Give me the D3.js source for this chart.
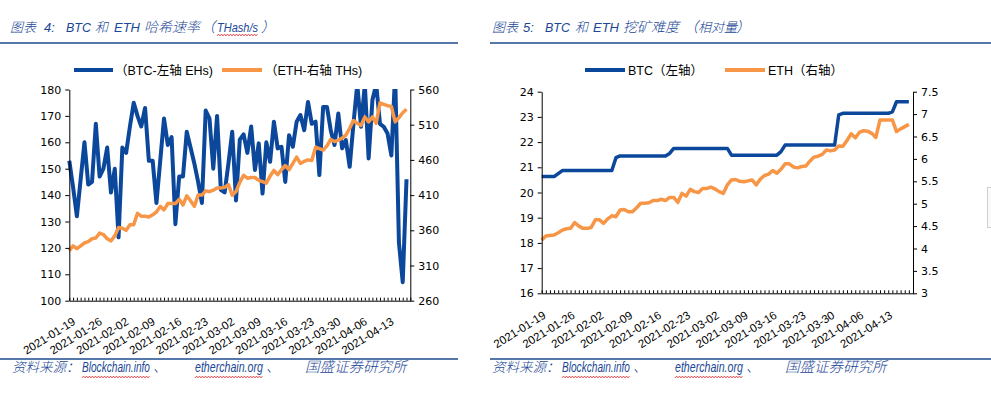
<!DOCTYPE html>
<html>
<head>
<meta charset="utf-8">
<script src="https://cdn.jsdelivr.net/npm/d3@7/dist/d3.min.js"></script>
<style>
  body { margin: 0; background: #fff; }
  svg { display: block; }
</style>
</head>
<body>
<svg id="chart" width="991" height="396"></svg>
<script>
// ---- data ----
// daily categories 2021-01-19 .. 2021-04-19
const days = d3.utcDay.range(new Date(Date.UTC(2021, 0, 19)), new Date(Date.UTC(2021, 3, 20)))
  .map(d3.utcFormat("%Y-%m-%d"));

const xLabels = ["2021-01-19", "2021-01-26", "2021-02-02", "2021-02-09", "2021-02-16", "2021-02-23",
  "2021-03-02", "2021-03-09", "2021-03-16", "2021-03-23", "2021-03-30", "2021-04-06", "2021-04-13"];

// chart 4: hash rate (BTC EH/s left, ETH TH/s right)
const btcHash = [
  153, 143, 132, 146, 160, 144, 145, 167, 147, 150,
  158, 141, 150, 124, 158, 156, 166, 175, 170, 166,
  173, 153, 153, 137, 153, 169, 159, 162, 129, 147,
  147, 164, 158, 152, 145, 137, 172, 169, 150, 170,
  142, 141, 152, 164, 138, 161, 163, 156, 166, 149.5,
  159.6, 140.6, 160, 152.6, 167.8, 157.7, 158.3, 145, 162.7, 158.3,
  167.8, 170.3, 164.6, 175.3, 167, 167.8, 147.6, 173.4, 173.4, 164.6,
  159, 170.9, 157.7, 160.8, 150.7, 167, 182, 165.9, 182, 153.9,
  176, 182, 167, 165.9, 163.3, 155, 186, 122, 107, 146];
const ethHash = [
  331, 338, 334, 338, 342, 344, 348, 349, 356, 354,
  348, 345, 352, 364, 363, 360, 368, 368, 384, 380,
  380, 379, 382, 386, 394, 389, 398, 398, 398, 404,
  396, 409, 402, 394, 410, 410, 416, 415, 417, 420,
  420, 421, 425, 410, 415, 428, 438, 434, 435, 435,
  431, 429, 427, 437, 445, 439, 446, 452, 446, 455,
  464, 455, 458, 460, 459, 478, 476, 474, 480, 489,
  486, 488, 491, 495, 505, 516, 512, 509, 521, 514,
  521, 512, 541, 539, 537, 536, 514, 520, 527, 532];
const hashLeftTicks = [100, 110, 120, 130, 140, 150, 160, 170, 180];
const hashRightTicks = [260, 310, 360, 410, 460, 510, 560];

// chart 5: mining difficulty (relative)
const btcDiff = [
  20.63, 20.63, 20.63, 20.63, 20.75, 20.87, 20.87, 20.87, 20.87, 20.87,
  20.87, 20.87, 20.87, 20.87, 20.87, 20.87, 20.87, 20.87, 21.38, 21.45,
  21.45, 21.45, 21.45, 21.45, 21.45, 21.45, 21.45, 21.45, 21.45, 21.45,
  21.45, 21.55, 21.75, 21.75, 21.75, 21.75, 21.75, 21.75, 21.75, 21.75,
  21.75, 21.75, 21.75, 21.75, 21.75, 21.75, 21.48, 21.48, 21.48, 21.48,
  21.48, 21.48, 21.48, 21.48, 21.48, 21.48, 21.48, 21.48, 21.62, 21.88,
  21.88, 21.88, 21.88, 21.88, 21.88, 21.88, 21.88, 21.88, 21.88, 21.88,
  21.88, 21.88, 23.08, 23.14, 23.14, 23.14, 23.14, 23.14, 23.14, 23.14,
  23.14, 23.14, 23.14, 23.14, 23.14, 23.2, 23.6, 23.6, 23.6, 23.6];
const ethDiff = [
  4.19, 4.28, 4.29, 4.30, 4.35, 4.41, 4.44, 4.45, 4.58, 4.50,
  4.45, 4.45, 4.47, 4.64, 4.64, 4.56, 4.66, 4.73, 4.71, 4.86,
  4.87, 4.82, 4.82, 4.91, 5.01, 5.01, 5.02, 5.07, 5.07, 5.10,
  5.07, 5.14, 5.14, 5.03, 5.23, 5.17, 5.32, 5.27, 5.25, 5.34,
  5.34, 5.37, 5.33, 5.27, 5.23, 5.42, 5.53, 5.54, 5.50, 5.49,
  5.51, 5.53, 5.42, 5.55, 5.63, 5.66, 5.74, 5.68, 5.77, 5.89,
  5.89, 5.82, 5.80, 5.83, 5.84, 5.95, 6.04, 6.06, 6.10, 6.20,
  6.18, 6.20, 6.29, 6.28, 6.41, 6.56, 6.47, 6.59, 6.63, 6.62,
  6.57, 6.48, 6.87, 6.87, 6.87, 6.87, 6.61, 6.67, 6.72, 6.77];
const diffLeftTicks = [16, 17, 18, 19, 20, 21, 22, 23, 24];
const diffRightTicks = [3, 3.5, 4, 4.5, 5, 5.5, 6, 6.5, 7, 7.5];

// ---- styles ----
const BLUE = "#0b479b";
const ORANGE = "#f79646";
const TITLE = "#1a4796";
const CJK = "'Liberation Sans', 'Noto Sans CJK SC', sans-serif";

const svg = d3.select("#chart");

// text helper: one <text> per run; squeeze horizontally to width w if given
function run(x, y, s, o = {}) {
  const t = svg.append("text")
    .attr("font-family", CJK)
    .attr("font-size", o.size || 14)
    .attr("font-weight", o.weight || 300)
    .attr("font-style", "italic")
    .attr("fill", TITLE)
    .text(s);
  let k = 1;
  if (o.w) k = Math.min(1, o.w / t.node().getComputedTextLength());
  t.attr("transform", `translate(${x},${y}) scale(${k},1)`);
  return t;
}

// red spell-check squiggle
function squiggle(x0, x1, y) {
  const pts = [];
  for (let x = x0, k = 0; x <= x1; x += 1.5, k++) pts.push([x, y + (k % 2 ? -0.9 : 0.9)]);
  svg.append("path").attr("d", d3.line()(pts))
    .attr("fill", "none").attr("stroke", "#e02020").attr("stroke-width", 0.8);
}

function rule(x0, x1, y) {
  svg.append("line").attr("x1", x0).attr("x2", x1).attr("y1", y).attr("y2", y)
    .attr("stroke", "#1d4a90").attr("stroke-width", 1.4);
}

// ---- headers / footers ----
run(10, 32, "图表", { size: 13 });
run(44, 32, "4:", { size: 13 });
run(66, 32, "BTC", { size: 13, w: 25 });
run(95, 32, "和", { size: 13 });
run(114, 32, "ETH", { size: 13, w: 28 });
run(144, 32, "哈希速率", { size: 14 });
run(201, 32, "（", { size: 14 });
run(217, 32, "THash/s", { size: 13, w: 41 });
run(261, 32, "）", { size: 14 });
squiggle(217, 258, 35);

run(492, 32, "图表", { size: 13 });
run(523, 32, "5:", { size: 13 });
run(545, 32, "BTC", { size: 13, w: 25 });
run(575, 32, "和", { size: 13 });
run(593, 32, "ETH", { size: 13, w: 26 });
run(623, 32, "挖矿难度", { size: 14 });
run(684, 32, "（", { size: 14 });
run(698, 32, "相对量", { size: 13 });
run(736, 32, "）", { size: 14 });

rule(0, 458, 43);
rule(490, 991, 43);
rule(0, 458, 359);
rule(490, 991, 359);

[0, 480].forEach(dx => {
  run(12 + dx, 372, "资料来源：", { size: 13.5 });
  run(82 + dx, 372, "Blockchain.info", { size: 14, w: 68, weight: 400 });
  run(153 + dx, 372, "、", { size: 14 });
  run(195 + dx, 372, "etherchain.org", { size: 14, w: 68, weight: 400 });
  run(266 + dx, 372, "、", { size: 14 });
  run(305 + dx, 372, "国盛证券研究所", { size: 14.5 });
  squiggle(82 + dx, 150 + dx, 377);
  squiggle(195 + dx, 263 + dx, 377);
});

// small artefact at the page edge
svg.append("rect").attr("x", 987.5).attr("y", 187.5).attr("width", 10).attr("height", 40)
  .attr("fill", "#fafafa").attr("stroke", "#cfcfcf");

// ---- chart panel ----
function panel(o) {
  const g = svg.append("g");
  const x = d3.scalePoint().domain(days).range([o.x0, o.x1]);
  const yL = d3.scaleLinear().domain(d3.extent(o.leftTicks)).range([o.y1, o.y0]);
  const yR = d3.scaleLinear().domain(d3.extent(o.rightTicks)).range([o.y1, o.y0]);

  const clipId = "clip" + o.id;
  g.append("clipPath").attr("id", clipId).append("rect")
    .attr("x", o.x0 - 3).attr("y", o.y0 - 0.5).attr("width", o.x1 - o.x0 + 6).attr("height", o.y1 - o.y0 + 3);

  const lineL = d3.line().x((d, i) => x(days[i])).y(d => yL(d));
  const lineR = d3.line().x((d, i) => x(days[i])).y(d => yR(d));

  g.append("path").datum(o.s1).attr("d", lineL)
    .attr("clip-path", `url(#${clipId})`)
    .attr("fill", "none").attr("stroke", BLUE).attr("stroke-width", o.w1)
    .attr("stroke-linejoin", "round");
  g.append("path").datum(o.s2).attr("d", lineR)
    .attr("fill", "none").attr("stroke", ORANGE).attr("stroke-width", o.w2)
    .attr("stroke-linejoin", "round");

  // axes
  const ax = g.append("g").attr("transform", `translate(0,${o.y1})`)
    .call(d3.axisBottom(x).tickSizeInner(-3).tickSizeOuter(0).tickFormat(""));
  ax.selectAll("line,path").attr("stroke", "#000");

  const al = g.append("g").attr("transform", `translate(${o.x0},0)`)
    .call(d3.axisLeft(yL).tickValues(o.leftTicks).tickSizeInner(4).tickSizeOuter(0)
      .tickPadding(4).tickFormat(d => String(d)));
  const ar = g.append("g").attr("transform", `translate(${o.x1},0)`)
    .call(d3.axisRight(yR).tickValues(o.rightTicks).tickSizeInner(4).tickSizeOuter(0)
      .tickPadding(4).tickFormat(d => String(d)));
  [al, ar].forEach(a => {
    a.selectAll("line,path").attr("stroke", "#000");
    a.selectAll("text").attr("font-family", "'DejaVu Sans', sans-serif").attr("font-size", 11).attr("fill", "#000");
  });

  // rotated date labels
  g.append("g").selectAll("text").data(xLabels).join("text")
    .attr("transform", d => `translate(${x(d) + o.lx},${o.y1 + o.ly}) rotate(-32)`)
    .attr("text-anchor", "end")
    .attr("font-family", "'Liberation Sans', sans-serif")
    .attr("font-size", 11.5)
    .attr("fill", "#000")
    .text(d => d);

  // legend
  o.legend.forEach(l => {
    g.append("line").attr("x1", l.x1).attr("x2", l.x2).attr("y1", 70).attr("y2", 70)
      .attr("stroke", l.color).attr("stroke-width", 4);
    g.append("text").attr("x", l.tx).attr("y", 75)
      .attr("font-family", CJK).attr("font-size", 12.5).attr("fill", "#000")
      .text(l.label);
  });
}

panel({
  id: 4, x0: 69.3, x1: 410.3, y0: 89.5, y1: 300.7,
  leftTicks: hashLeftTicks, rightTicks: hashRightTicks,
  s1: btcHash, s2: ethHash, w1: 4, w2: 3.5, lx: 7, ly: 23,
  legend: [
    { x1: 74, x2: 113, color: BLUE, tx: 115, label: "（BTC-左轴 EHs)" },
    { x1: 222, x2: 262, color: ORANGE, tx: 265, label: "（ETH-右轴 THs)" }
  ]
});

panel({
  id: 5, x0: 541.7, x1: 913, y0: 91.7, y1: 293.3,
  leftTicks: diffLeftTicks, rightTicks: diffRightTicks,
  s1: btcDiff, s2: ethDiff, w1: 3.5, w2: 3.5, lx: 5, ly: 24,
  legend: [
    { x1: 585, x2: 625, color: BLUE, tx: 628, label: "BTC（左轴）" },
    { x1: 725, x2: 765, color: ORANGE, tx: 768, label: "ETH（右轴）" }
  ]
});
</script>
</body>
</html>
